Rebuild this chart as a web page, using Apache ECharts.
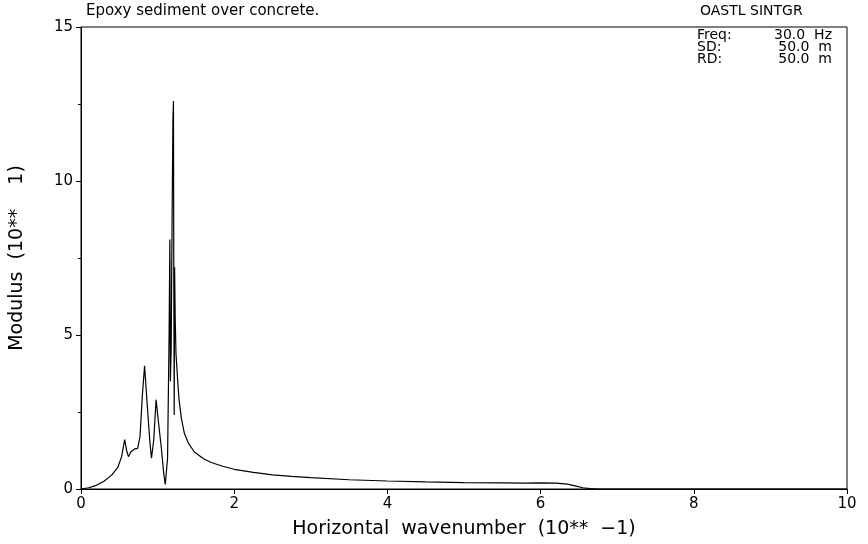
<!DOCTYPE html>
<html>
<head>
<meta charset="utf-8">
<script src="https://cdn.jsdelivr.net/npm/echarts@6/dist/echarts.min.js"></script>
<style>html,body{margin:0;padding:0;background:#fff;}#c{width:868px;height:544px;}</style>
</head>
<body>
<div id="c"></div>
<script>
const xValues = [0, 0.1, 0.2, 0.3, 0.4, 0.48, 0.53, 0.57, 0.6, 0.62, 0.65, 0.7, 0.74, 0.77, 0.8, 0.83, 0.86, 0.9, 0.92, 0.95, 0.98, 1.01, 1.05, 1.08, 1.10, 1.13, 1.15, 1.16, 1.167, 1.177, 1.19, 1.2, 1.207, 1.212, 1.217, 1.222, 1.23, 1.24, 1.26, 1.28, 1.31, 1.35, 1.4, 1.48, 1.6, 1.7, 1.85, 2.0, 2.25, 2.5, 2.75, 3.0, 3.5, 4.0, 4.5, 5.0, 5.5, 5.8, 6.0, 6.2, 6.35, 6.45, 6.55, 6.65, 6.75, 8, 10];
const yValues = [0, 0.04, 0.12, 0.25, 0.45, 0.7, 1.05, 1.6, 1.2, 1.05, 1.2, 1.3, 1.32, 1.7, 3.0, 4.0, 2.9, 1.5, 1.0, 1.6, 2.9, 2.2, 1.3, 0.5, 0.15, 1.0, 5.0, 8.1, 3.5, 4.5, 9.0, 12.0, 12.6, 6.5, 2.4, 7.2, 5.5, 4.4, 3.6, 2.9, 2.3, 1.8, 1.5, 1.2, 0.98, 0.86, 0.74, 0.64, 0.54, 0.46, 0.41, 0.37, 0.3, 0.26, 0.23, 0.21, 0.2, 0.19, 0.2, 0.19, 0.16, 0.1, 0.04, 0.01, 0, 0, 0];
const xTicks = [0, 2, 4, 6, 8, 10];
const yTicks = [0, 5, 10, 15];
const titleText = 'Epoxy sediment over concrete.';
const progText = 'OASTL SINTGR';
const paramLabels = ['Freq:', 'SD:', 'RD:'];
const paramValues = ['30.0  Hz', '50.0  m', '50.0  m'];

const FONT = 'DejaVu Sans';
const chart = echarts.init(document.getElementById('c'), null, {renderer: 'canvas'});
const data = xValues.map((x, i) => [x, yValues[i]]);

const graphics = [
  {type: 'text', left: 86, top: 4, style: {text: titleText, font: '15px "' + FONT + '"', fill: '#000'}},
  {type: 'text', left: 700, top: 4, style: {text: progText, font: '14px "' + FONT + '"', fill: '#000'}}
];
paramLabels.forEach((l, i) => {
  graphics.push({type: 'text', left: 697, top: 28 + i * 12, style: {text: l, font: '14px "' + FONT + '"', fill: '#000'}});
  graphics.push({type: 'text', right: 36, top: 28 + i * 12, style: {text: paramValues[i], font: '14px "' + FONT + '"', fill: '#000', align: 'right'}});
});

chart.setOption({
  animation: false,
  backgroundColor: '#fff',
  grid: {left: 80, right: 21, top: 27, bottom: 54, show: true, borderColor: '#000', borderWidth: 1},
  xAxis: {
    type: 'value', min: 0, max: 10, interval: 2,
    name: 'Horizontal  wavenumber  (10**  \u22121)', nameLocation: 'middle', nameGap: 31,
    nameTextStyle: {fontFamily: FONT, fontSize: 19, color: '#000'},
    axisLine: {lineStyle: {color: '#000', width: 1}},
    axisTick: {show: true, length: 5, lineStyle: {color: '#000'}},
    axisLabel: {fontFamily: FONT, fontSize: 15, color: '#000', margin: 8,
      customValues: xTicks, formatter: v => String(v)},
    splitLine: {show: false}
  },
  yAxis: {
    type: 'value', min: 0, max: 15, interval: 5,
    name: 'Modulus  (10**    1)', nameLocation: 'middle', nameGap: 54,
    nameTextStyle: {fontFamily: FONT, fontSize: 19, color: '#000'},
    axisLine: {show: true, lineStyle: {color: '#000', width: 1}},
    axisTick: {show: true, length: 5, lineStyle: {color: '#000'}},
    minorTick: {show: true, splitNumber: 2, length: 3, lineStyle: {color: '#000'}},
    axisLabel: {fontFamily: FONT, fontSize: 15, color: '#000', margin: 8, formatter: v => yTicks.includes(v) ? String(v) : ''},
    splitLine: {show: false}
  },
  series: [{
    type: 'line', data: data, showSymbol: false, symbol: 'none', smooth: false,
    lineStyle: {color: '#000', width: 1.2}
  }],
  graphic: graphics
});
</script>
</body>
</html>
